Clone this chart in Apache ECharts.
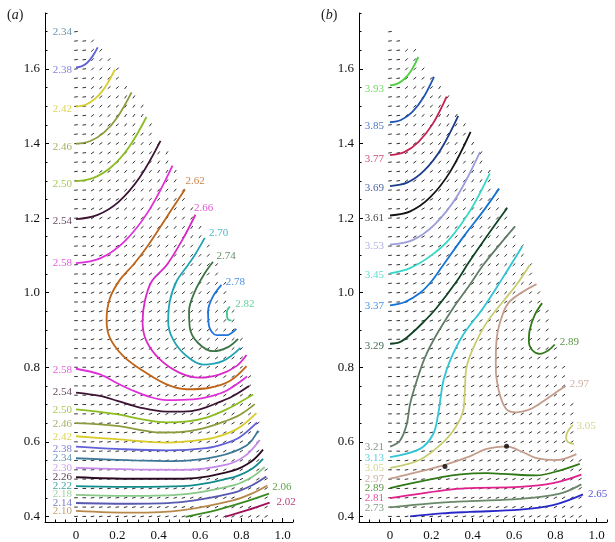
<!DOCTYPE html>
<html><head><meta charset="utf-8">
<script src="https://cdn.jsdelivr.net/npm/echarts@6/dist/echarts.min.js"></script>
<style>html,body{margin:0;padding:0;background:#fff}#c{width:615px;height:542px}</style>
</head><body><div id="c"></div>
<script>
// ---------- axis ticks ----------
const xTicks = [0, 0.2, 0.4, 0.6, 0.8, 1.0];
const yTicks = [0.4, 0.6, 0.8, 1.0, 1.2, 1.4, 1.6];
const xMinor = [-0.1, -0.05, 0.05, 0.1, 0.15, 0.25, 0.3, 0.35, 0.45, 0.5, 0.55, 0.65, 0.7, 0.75, 0.85, 0.9, 0.95, 1.05];
const yMinor = [0.45, 0.5, 0.55, 0.65, 0.7, 0.75, 0.85, 0.9, 0.95, 1.05, 1.1, 1.15, 1.25, 1.3, 1.35, 1.45, 1.5, 1.55, 1.65, 1.7, 1.75];

// ---------- panel (a) contours ----------
const A_238 = [[0,1.604],[0.026,1.607],[0.053,1.616],[0.079,1.633],[0.105,1.658]];
const A_242 = [[0,1.499],[0.047,1.504],[0.094,1.521],[0.141,1.551],[0.188,1.598]];
const A_246 = [[0,1.399],[0.067,1.406],[0.135,1.429],[0.202,1.472],[0.269,1.537]];
const A_250 = [[0,1.299],[0.085,1.308],[0.171,1.337],[0.256,1.39],[0.341,1.471]];
const A_254u = [[0,1.197],[0.102,1.208],[0.205,1.243],[0.307,1.308],[0.409,1.407]];
const A_258u = [[0,1.079],[0.117,1.092],[0.234,1.137],[0.35,1.218],[0.467,1.341]];
const A_262 = [[0.527,1.277],[0.465,1.225],[0.403,1.172],[0.34,1.12],[0.277,1.075],[0.213,1.035],[0.164,0.985],[0.148,0.927],[0.164,0.879],[0.229,0.83],[0.325,0.79],[0.438,0.754],[0.535,0.741],[0.647,0.745],[0.744,0.763],[0.825,0.803]];
const A_266 = [[0.578,1.209],[0.518,1.145],[0.44,1.075],[0.366,1.03],[0.333,0.977],[0.322,0.923],[0.341,0.87],[0.406,0.821],[0.502,0.785],[0.599,0.772],[0.696,0.781],[0.776,0.803],[0.825,0.833]];
const A_270 = [[0.623,1.147],[0.575,1.101],[0.543,1.075],[0.486,1.03],[0.454,0.977],[0.446,0.923],[0.47,0.874],[0.535,0.83],[0.615,0.807],[0.712,0.817],[0.796,0.852]];
const A_274 = [[0.663,1.083],[0.623,1.052],[0.575,1.003],[0.547,0.95],[0.551,0.905],[0.591,0.865],[0.663,0.843],[0.736,0.854],[0.784,0.876]];
const A_278 = [[0.704,1.021],[0.663,0.99],[0.639,0.95],[0.644,0.91],[0.68,0.886],[0.728,0.886],[0.776,0.903]];
const A_282 = [[0.744,0.963],[0.73,0.948],[0.733,0.93],[0.752,0.925]];
const A_258l = [[0,0.796],[0.116,0.781],[0.2,0.757],[0.277,0.737],[0.36,0.72],[0.438,0.712],[0.567,0.714],[0.65,0.722],[0.728,0.737],[0.828,0.775]];
const A_254l = [[0,0.732],[0.116,0.723],[0.2,0.71],[0.309,0.692],[0.438,0.681],[0.52,0.681],[0.599,0.687],[0.7,0.708],[0.76,0.723],[0.837,0.75]];
const A_250l = [[0,0.687],[0.197,0.674],[0.32,0.66],[0.438,0.652],[0.54,0.655],[0.631,0.665],[0.72,0.685],[0.776,0.701],[0.857,0.727]];
const A_246l = [[0,0.65],[0.197,0.643],[0.3,0.633],[0.406,0.625],[0.5,0.626],[0.599,0.634],[0.7,0.651],[0.792,0.672],[0.865,0.701]];
const A_242l = [[0,0.615],[0.197,0.607],[0.438,0.598],[0.631,0.607],[0.72,0.62],[0.792,0.639],[0.873,0.677]];
const A_238l = [[0,0.587],[0.197,0.581],[0.438,0.577],[0.631,0.583],[0.72,0.595],[0.792,0.612],[0.876,0.652]];
const A_234l = [[0,0.556],[0.277,0.55],[0.47,0.548],[0.68,0.56],[0.825,0.59],[0.881,0.63]];
const A_230l = [[0,0.53],[0.277,0.526],[0.518,0.525],[0.728,0.539],[0.82,0.563],[0.889,0.605]];
const A_226l = [[0,0.505],[0.277,0.501],[0.518,0.501],[0.76,0.523],[0.85,0.548],[0.905,0.579]];
const A_222l = [[0,0.481],[0.277,0.479],[0.518,0.481],[0.76,0.505],[0.85,0.527],[0.905,0.554]];
const A_218l = [[0,0.458],[0.277,0.455],[0.518,0.459],[0.76,0.483],[0.85,0.505],[0.913,0.532]];
const A_214l = [[0,0.436],[0.277,0.434],[0.518,0.439],[0.76,0.463],[0.85,0.483],[0.921,0.507]];
const A_210l = [[0,0.415],[0.277,0.41],[0.518,0.417],[0.76,0.443],[0.85,0.461],[0.926,0.483]];
const A_206 = [[0.53,0.399],[0.68,0.417],[0.8,0.436],[0.934,0.461]];
const A_202 = [[0.721,0.399],[0.825,0.416],[0.937,0.437]];

// ---------- panel (b) contours ----------
const B_393 = [[0,1.556],[0.034,1.56],[0.069,1.573],[0.103,1.596],[0.137,1.632]];
const B_385 = [[0,1.457],[0.053,1.463],[0.107,1.484],[0.16,1.522],[0.213,1.579]];
const B_377 = [[0,1.369],[0.069,1.377],[0.137,1.404],[0.206,1.452],[0.274,1.526]];
const B_369 = [[0,1.286],[0.083,1.295],[0.165,1.327],[0.248,1.386],[0.33,1.474]];
const B_361 = [[0,1.207],[0.098,1.218],[0.195,1.256],[0.293,1.326],[0.39,1.431]];
const B_353 = [[0,1.129],[0.109,1.141],[0.218,1.184],[0.326,1.26],[0.435,1.377]];
const B_345 = [[0,1.052],[0.097,1.066],[0.2,1.1],[0.29,1.145],[0.39,1.222],[0.483,1.32]];
const B_337 = [[0,0.966],[0.072,0.975],[0.145,0.999],[0.2,1.03],[0.25,1.068],[0.362,1.155],[0.45,1.218],[0.528,1.279]];
const B_329 = [[0,0.863],[0.05,0.868],[0.097,0.887],[0.16,0.92],[0.225,0.959],[0.322,1.03],[0.38,1.08],[0.467,1.15],[0.567,1.227]];
const B_321 = [[0,0.587],[0.048,0.603],[0.081,0.647],[0.097,0.701],[0.129,0.763],[0.169,0.826],[0.225,0.887],[0.306,0.959],[0.386,1.021],[0.451,1.074],[0.525,1.125],[0.604,1.177]];
const B_313 = [[0,0.559],[0.145,0.581],[0.209,0.621],[0.233,0.674],[0.245,0.719],[0.258,0.763],[0.29,0.817],[0.354,0.887],[0.451,0.959],[0.54,1.035],[0.639,1.123]];
const B_305 = [[0,0.53],[0.145,0.552],[0.258,0.599],[0.322,0.643],[0.354,0.683],[0.362,0.737],[0.37,0.799],[0.403,0.852],[0.467,0.919],[0.548,0.977],[0.612,1.021],[0.676,1.074]];
const B_305h = [[0.885,0.645],[0.862,0.63],[0.852,0.612],[0.86,0.6],[0.89,0.594]];
const B_297u = [[0.709,1.023],[0.58,0.977],[0.539,0.932],[0.515,0.87],[0.512,0.807],[0.515,0.772],[0.535,0.72],[0.564,0.687],[0.612,0.679],[0.676,0.687],[0.709,0.697],[0.789,0.727],[0.85,0.75]];
const B_297l = [[0,0.501],[0.097,0.514],[0.258,0.537],[0.386,0.561],[0.467,0.581],[0.564,0.588],[0.644,0.572],[0.709,0.556],[0.805,0.551],[0.902,0.567]];
const B_289l = [[0,0.476],[0.177,0.497],[0.3,0.51],[0.386,0.515],[0.47,0.516],[0.548,0.514],[0.709,0.51],[0.821,0.523],[0.918,0.541]];
const B_289h = [[0.736,0.972],[0.7,0.94],[0.676,0.9],[0.672,0.87],[0.69,0.845],[0.725,0.836],[0.765,0.845],[0.797,0.861]];
const B_281 = [[0,0.449],[0.258,0.47],[0.386,0.476],[0.628,0.479],[0.789,0.489],[0.926,0.512]];
const B_273 = [[0,0.424],[0.2,0.435],[0.386,0.441],[0.628,0.447],[0.821,0.461],[0.926,0.486]];
const B_265 = [[0.097,0.4],[0.25,0.408],[0.386,0.412],[0.628,0.418],[0.789,0.43],[0.934,0.459]];
const dotsB = [[0.266,0.534],[0.564,0.588]];

const contoursA = [['2.38',A_238],['2.42',A_242],['2.46',A_246],['2.50',A_250],['2.54',A_254u],['2.58',A_258u],
  ['2.62',A_262],['2.66',A_266],['2.70',A_270],['2.74',A_274],['2.78',A_278],['2.82',A_282],
  ['2.58',A_258l],['2.54',A_254l],['2.50',A_250l],['2.46',A_246l],['2.42',A_242l],['2.38',A_238l],['2.34',A_234l],
  ['2.30',A_230l],['2.26',A_226l],['2.22',A_222l],['2.18',A_218l],['2.14',A_214l],['2.10',A_210l],['2.06',A_206],['2.02',A_202]];
const contoursB = [['3.93',B_393],['3.85',B_385],['3.77',B_377],['3.69',B_369],['3.61',B_361],['3.53',B_353],['3.45',B_345],
  ['3.37',B_337],['3.29',B_329],['3.21',B_321],['3.13',B_313],['3.05',B_305],['3.05',B_305h],['2.97',B_297u],['2.97',B_297l],
  ['2.89',B_289l],['2.89',B_289h],['2.81',B_281],['2.73',B_273],['2.65',B_265]];

// ---------- contour labels: [text, y] on the left edge; [text, x, y] elsewhere ----------
const labelsAL = [['2.34',1.700],['2.38',1.596],['2.42',1.492],['2.46',1.391],['2.50',1.292],['2.54',1.191],['2.58',1.079],
  ['2.58',0.793],['2.54',0.732],['2.50',0.684],['2.46',0.647],['2.42',0.612],['2.38',0.580],['2.34',0.556],['2.30',0.530],
  ['2.26',0.505],['2.22',0.481],['2.18',0.459],['2.14',0.435],['2.10',0.414]];
const labelsAR = [['2.62',0.53,1.298],['2.66',0.571,1.227],['2.70',0.644,1.159],['2.74',0.68,1.099],['2.78',0.725,1.027],
  ['2.82',0.771,0.970],['2.06',0.95,0.479],['2.02',0.97,0.439]];
const labelsBL = [['3.93',1.546],['3.85',1.446],['3.77',1.359],['3.69',1.281],['3.61',1.201],['3.53',1.126],['3.45',1.047],
  ['3.37',0.965],['3.29',0.858],['3.21',0.585],['3.13',0.557],['3.05',0.529],['2.97',0.501],['2.89',0.476],['2.81',0.449],['2.73',0.423]];
const labelsBR = [['2.89',0.821,0.868],['2.97',0.87,0.756],['3.05',0.902,0.643],['2.65',0.958,0.459]];

// ---------- direction-field lattice ----------
const fieldX = [0,0.04,0.08,0.12,0.16,0.2,0.24,0.28,0.32,0.36,0.4,0.44,0.48,0.52,0.56,0.6,0.64,0.68,0.72,0.76,0.8,0.84,0.88,0.92,0.96];
const fieldY = [0.4,0.425,0.45,0.475,0.5,0.525,0.55,0.575,0.6,0.625,0.65,0.675,0.7,0.725,0.75,0.775,0.8,0.825,0.85,0.875,
  0.9,0.925,0.95,0.975,1.0,1.025,1.05,1.075,1.1,1.125,1.15,1.175,1.2,1.225,1.25,1.275,1.3,1.325,1.35,1.375,1.4,1.425,
  1.45,1.475,1.5,1.525,1.55,1.575,1.6,1.625,1.65,1.675,1.7];
const edgeA = [[0.40,0.95],[0.45,0.94],[0.50,0.93],[0.55,0.915],[0.60,0.9],[0.65,0.885],[0.70,0.87],[0.75,0.85],[0.80,0.83],
  [0.85,0.81],[0.90,0.79],[0.95,0.77],[1.00,0.74],[1.05,0.70],[1.10,0.665],[1.15,0.63],[1.20,0.59],[1.25,0.55],[1.30,0.51],
  [1.35,0.47],[1.40,0.42],[1.45,0.37],[1.50,0.32],[1.55,0.27],[1.60,0.20],[1.65,0.13],[1.70,0.03]];
const edgeB = [[0.40,0.95],[0.45,0.94],[0.50,0.93],[0.55,0.92],[0.60,0.91],[0.65,0.9],[0.70,0.88],[0.75,0.86],[0.80,0.84],
  [0.85,0.81],[0.90,0.79],[0.95,0.76],[1.00,0.73],[1.05,0.70],[1.10,0.66],[1.15,0.62],[1.20,0.585],[1.25,0.55],[1.30,0.50],
  [1.35,0.46],[1.40,0.42],[1.45,0.37],[1.50,0.31],[1.55,0.25],[1.60,0.19],[1.65,0.12],[1.70,0.03]];
const angleYs = [0.45,0.6,0.75,0.9,1.05,1.2,1.35,1.5,1.65];
const angleXs = [0,0.15,0.3,0.45,0.6,0.75,0.9];
const anglesA = [[0,8,14,18,24,28,32],[0,8,14,20,26,32,36],[0,14,22,28,34,38,40],[3,18,28,35,40,44,45],[5,24,36,42,46,48,48],
  [6,30,42,48,52,52,52],[8,36,48,54,56,56,56],[8,40,54,58,58,58,58],[8,45,58,58,58,58,58]];
const anglesB = [[0,10,15,20,24,28,32],[0,12,18,22,26,32,36],[3,15,24,30,32,36,38],[4,18,28,34,36,38,40],[5,24,34,40,44,45,45],
  [6,30,42,48,50,52,52],[8,36,48,54,55,55,55],[8,40,54,58,58,58,58],[8,45,58,58,58,58,58]];

// ---------- styles ----------
const colorsA = {'2.02':'#a0105a','2.06':'#3a8a20','2.10':'#b8884a','2.14':'#5858b0','2.18':'#88c888','2.22':'#108c8c',
  '2.26':'#2a0a20','2.30':'#c488e8','2.34':'#3e7898','2.38':'#6060d8','2.42':'#d8cc28','2.46':'#8c9c3c','2.50':'#8cbc20',
  '2.54':'#3c1434','2.58':'#e030d8','2.62':'#c06418','2.66':'#d828c8','2.70':'#20a4b4','2.74':'#3c7444','2.78':'#2074dc','2.82':'#40c488'};
const colorsB = {'2.65':'#2828c8','2.73':'#688868','2.81':'#e0208c','2.89':'#307818','2.97':'#c49c8c','3.05':'#c8cc70',
  '3.13':'#30c4d4','3.21':'#607c68','3.29':'#104424','3.37':'#1474d4','3.45':'#34d8c8','3.53':'#9c9cdc','3.61':'#141414',
  '3.69':'#1c3c8c','3.77':'#c42050','3.85':'#2054b8','3.93':'#50d040'};

const FONT = 'Liberation Serif';
const chart = echarts.init(document.getElementById('c'), null, {renderer: 'canvas'});

function edgeAt(edge, y) {
  for (let i = 0; i < edge.length - 1; i++) {
    if (y >= edge[i][0] - 1e-9 && y <= edge[i + 1][0] + 1e-9) {
      const t = (y - edge[i][0]) / (edge[i + 1][0] - edge[i][0]);
      return edge[i][1] + t * (edge[i + 1][1] - edge[i][1]);
    }
  }
  return -1;
}
function nearestIdx(arr, v) { let b = 0; for (let i = 1; i < arr.length; i++) if (Math.abs(arr[i] - v) < Math.abs(arr[b] - v)) b = i; return b; }
function buildField(edge, angles) {
  const pts = [], ang = [];
  for (const y of fieldY) {
    const xm = edgeAt(edge, y);
    for (const x of fieldX) {
      if (x <= xm + 1e-9) { pts.push([x, y]); ang.push(angles[nearestIdx(angleYs, y)][nearestIdx(angleXs, x)]); }
    }
  }
  return {pts, ang};
}
function makeDashRenderer(ang) {
  return function (params, api) {
    const c = api.coord([api.value(0), api.value(1)]);
    const a = ang[params.dataIndex] * Math.PI / 180, h = 1.8;
    const dx = h * Math.cos(a), dy = h * Math.sin(a);
    return {type: 'line', shape: {x1: c[0] - dx, y1: c[1] + dy, x2: c[0] + dx, y2: c[1] - dy},
      style: {stroke: '#333', lineWidth: 1}};
  };
}

const grids = [
  {left: 45, top: 13, width: 248, height: 512},
  {left: 359, top: 13, width: 248, height: 512}
];
const xAxes = [], yAxes = [];
[0, 1].forEach(g => {
  xAxes.push({type: 'value', gridIndex: g, position: 'bottom', min: -0.15, max: 1.05,
    axisLine: {show: true, onZero: false, lineStyle: {color: '#000', width: 1}},
    axisTick: {show: true, inside: true, length: 4, customValues: xTicks, lineStyle: {color: '#000'}},
    axisLabel: {show: true, customValues: xTicks, margin: 7, color: '#111', fontFamily: FONT, fontSize: 13,
      formatter: v => (Math.abs(v) < 1e-9 ? '0' : v.toFixed(1))},
    splitLine: {show: false}});
  xAxes.push({type: 'value', gridIndex: g, position: 'bottom', min: -0.15, max: 1.05,
    axisLine: {show: false, onZero: false},
    axisTick: {show: true, inside: true, length: 2.5, customValues: xMinor, lineStyle: {color: '#000'}},
    axisLabel: {show: false}, splitLine: {show: false}});
  yAxes.push({type: 'value', gridIndex: g, position: 'left', min: 0.385, max: 1.75,
    axisLine: {show: true, onZero: false, lineStyle: {color: '#000', width: 1}},
    axisTick: {show: true, inside: true, length: 4, customValues: yTicks, lineStyle: {color: '#000'}},
    axisLabel: {show: true, customValues: yTicks, margin: 5, color: '#111', fontFamily: FONT, fontSize: 13,
      formatter: v => v.toFixed(1)},
    splitLine: {show: false}});
  yAxes.push({type: 'value', gridIndex: g, position: 'left', min: 0.385, max: 1.75,
    axisLine: {show: false, onZero: false},
    axisTick: {show: true, inside: true, length: 2.5, customValues: yMinor, lineStyle: {color: '#000'}},
    axisLabel: {show: false}, splitLine: {show: false}});
});

const series = [];
function addPanel(p, contours, colors, edge, angles, labelsL, labelsR, leftX) {
  const ax = 2 * p;
  const f = buildField(edge, angles);
  series.push({type: 'custom', xAxisIndex: ax, yAxisIndex: ax, renderItem: makeDashRenderer(f.ang), silent: true, z: 1,
    data: f.pts});
  contours.forEach(([lvl, pts]) => {
    series.push({type: 'line', xAxisIndex: ax, yAxisIndex: ax, data: pts, smooth: 0.35, showSymbol: false, symbol: 'none',
      lineStyle: {color: colors[lvl], width: 1.8}, silent: true, z: 3});
  });
  series.push({type: 'scatter', xAxisIndex: ax, yAxisIndex: ax, symbolSize: 0, silent: true, z: 5,
    label: {show: true, position: 'left', distance: 0, formatter: '{b}', fontFamily: FONT, fontSize: 11},
    data: labelsL.map(([t, y]) => ({name: t, value: [leftX, y], label: {color: colors[t]}}))});
  series.push({type: 'scatter', xAxisIndex: ax, yAxisIndex: ax, symbolSize: 0, silent: true, z: 5,
    label: {show: true, position: 'right', distance: 0, formatter: '{b}', fontFamily: FONT, fontSize: 11},
    data: labelsR.map(([t, x, y]) => ({name: t, value: [x, y], label: {color: colors[t]}}))});
}
addPanel(0, contoursA, colorsA, edgeA, anglesA, labelsAL, labelsAR, -0.019);
addPanel(1, contoursB, colorsB, edgeB, anglesB, labelsBL, labelsBR, -0.029);
series.push({type: 'scatter', xAxisIndex: 2, yAxisIndex: 2, symbolSize: 5, itemStyle: {color: '#000'}, z: 6, silent: true, data: dotsB});

const rich = {p: {fontFamily: FONT, fontSize: 14, fill: '#222', color: '#222'},
              i: {fontFamily: FONT, fontSize: 14, fontStyle: 'italic', fill: '#222', color: '#222'}};
chart.setOption({
  animation: false,
  backgroundColor: '#fff',
  grid: grids,
  xAxis: xAxes,
  yAxis: yAxes,
  series: series,
  graphic: [
    {type: 'text', left: 7, top: 8, style: {text: '{p|(}{i|a}{p|)}', rich: rich}},
    {type: 'text', left: 321, top: 8, style: {text: '{p|(}{i|b}{p|)}', rich: rich}}
  ]
});
</script></body></html>
